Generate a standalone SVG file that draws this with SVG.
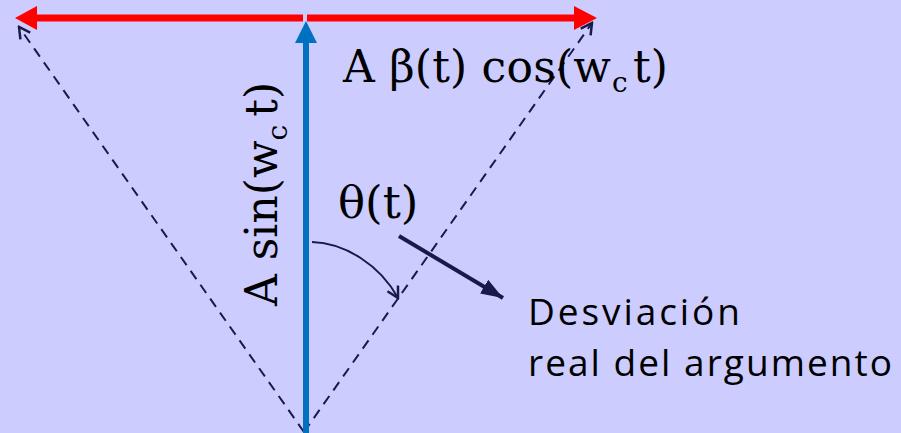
<svg xmlns="http://www.w3.org/2000/svg" width="901" height="433" viewBox="0 0 901 433">
<defs>
<style>
.serif{font-family:"DejaVu Serif","Liberation Serif",serif;fill:#000;}
.sans{font-family:"Open Sans","Liberation Sans",sans-serif;fill:#000;}
.dash{stroke:#1a1a4a;stroke-width:2;stroke-dasharray:10,7;fill:none;}
</style>
<marker id="openHead" markerWidth="14" markerHeight="14" refX="12" refY="7" orient="auto" markerUnits="userSpaceOnUse">
<path d="M1,1 L12,7 L1,13" fill="none" stroke="#1a1a4a" stroke-width="2.5"/>
</marker>
<marker id="navyHead" markerWidth="24" markerHeight="20" refX="22" refY="10" orient="auto" markerUnits="userSpaceOnUse">
<path d="M0,2 L22,10 L0,18 Z" fill="#1a1a4a"/>
</marker>
</defs>
<rect x="0" y="0" width="901" height="433" fill="#CCCCFF"/>
<g id="connectors">
<line class="dash" x1="304" y1="432" x2="19" y2="27" marker-end="url(#openHead)"/>
<line class="dash" x1="304" y1="432" x2="592" y2="23" marker-end="url(#openHead)"/>
<line x1="303" y1="18" x2="36" y2="18" stroke="#FF0000" stroke-width="7"/>
<path d="M15,18 L37,6 L37,30 Z" fill="#FF0000"/>
<line x1="307" y1="18" x2="576" y2="18" stroke="#FF0000" stroke-width="7"/>
<path d="M597,18 L574,6 L574,30 Z" fill="#FF0000"/>
<line x1="306" y1="433" x2="306" y2="40" stroke="#0070C0" stroke-width="6"/>
<path d="M306,21 L295,43 L317,43 Z" fill="#0070C0"/>
<path d="M312,242 C345,243 380,265 398,298" fill="none" stroke="#1a1a4a" stroke-width="2" marker-end="url(#openHead)"/>
<line x1="399" y1="236" x2="503" y2="298" stroke="#1a1a4a" stroke-width="4" marker-end="url(#navyHead)"/>
</g>
<g id="label-cos">
<text class="serif" font-size="44" y="82"><tspan x="343" textLength="268" lengthAdjust="spacing">A β(t) cos(w</tspan><tspan x="612" y="92" font-size="28">c</tspan><tspan x="633" y="82">t)</tspan></text>
</g>
<g id="label-sin">
<text class="serif" font-size="44" transform="translate(277,306) rotate(-90)" x="0" y="0">A sin(w<tspan font-size="28" dy="10">c</tspan><tspan dy="-10" dx="8">t)</tspan></text>
</g>
<g id="label-theta">
<text class="serif" font-size="45" x="338" y="218">θ(t)</text>
</g>
<g id="label-desv">
<text class="sans" font-size="37" x="528" y="325" textLength="212">Desviación</text>
<text class="sans" font-size="37" x="528" y="376" textLength="364">real del argumento</text>
</g>
</svg>
